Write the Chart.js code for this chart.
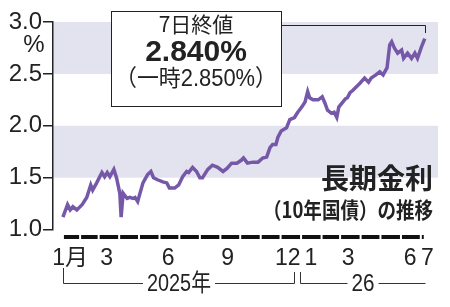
<!DOCTYPE html>
<html>
<head>
<meta charset="utf-8">
<script src="https://cdn.jsdelivr.net/npm/chart.js@4.4.1/dist/chart.umd.min.js"></script>
<style>
  html, body { margin: 0; padding: 0; background: #fff; }
</style>
</head>
<body>
<canvas id="myChart" width="450" height="307"></canvas>
<script>
// 10-year JGB yield
const dates = [
  '2025-01-06','2025-01-13','2025-01-17','2025-01-21','2025-01-27','2025-02-04','2025-02-11','2025-02-17',
  '2025-02-20','2025-02-26','2025-03-06','2025-03-10','2025-03-14','2025-03-18','2025-03-24','2025-03-28',
  '2025-04-02','2025-04-04','2025-04-07','2025-04-13','2025-04-17','2025-04-22','2025-04-25','2025-04-29',
  '2025-05-07','2025-05-14','2025-05-19','2025-05-23','2025-05-29','2025-06-06','2025-06-12','2025-06-16',
  '2025-06-24','2025-06-30','2025-07-06','2025-07-12','2025-07-15','2025-07-21','2025-07-27','2025-08-01',
  '2025-08-05','2025-08-13','2025-08-20','2025-08-28','2025-09-05','2025-09-11','2025-09-18','2025-09-26',
  '2025-10-03','2025-10-06','2025-10-12','2025-10-20','2025-10-28','2025-11-04','2025-11-10','2025-11-15',
  '2025-11-19','2025-11-24','2025-11-27','2025-12-02','2025-12-10','2025-12-15','2025-12-22','2025-12-27',
  '2026-01-02','2026-01-07','2026-01-11','2026-01-14','2026-01-19','2026-01-27','2026-02-02','2026-02-06',
  '2026-02-10','2026-02-16','2026-02-20','2026-02-24','2026-02-27','2026-03-09','2026-03-12','2026-03-16',
  '2026-03-20','2026-03-23','2026-03-31','2026-04-07','2026-04-13','2026-04-17','2026-04-24','2026-04-30',
  '2026-05-05','2026-05-11','2026-05-15','2026-05-18','2026-05-22','2026-05-27','2026-06-02','2026-06-05',
  '2026-06-11','2026-06-17','2026-06-22','2026-06-26','2026-07-02','2026-07-07'
]
const yields = [
  1.12,1.24,1.19,1.22,1.19,1.24,1.31,1.43,
  1.38,1.45,1.55,1.51,1.55,1.51,1.58,1.50,
  1.35,1.12,1.35,1.30,1.31,1.30,1.31,1.27,
  1.45,1.53,1.56,1.50,1.48,1.46,1.45,1.40,
  1.40,1.43,1.51,1.56,1.55,1.60,1.56,1.50,
  1.50,1.58,1.62,1.60,1.56,1.59,1.64,1.64,
  1.67,1.69,1.64,1.65,1.65,1.69,1.70,1.79,
  1.82,1.82,1.89,1.95,1.98,2.06,2.08,2.13,
  2.18,2.23,2.33,2.27,2.25,2.25,2.28,2.22,
  2.15,2.12,2.13,2.08,2.18,2.26,2.27,2.32,
  2.34,2.36,2.41,2.46,2.42,2.46,2.49,2.52,
  2.49,2.56,2.78,2.81,2.75,2.70,2.73,2.65,
  2.70,2.65,2.70,2.65,2.76,2.84
]
const intradayHigh = 2.850

const yTicks = [1.0, 1.5, 2.0, 2.5, 3.0]
const monthTickDates = ['2025-01-17','2025-03-13','2025-06-14','2025-09-12','2025-12-12','2026-01-16','2026-03-13','2026-06-15','2026-07-11']
const monthLabels = ['1月','3','6','9','12','1','3','6','7']
const bands = [[1.5, 2.0], [2.5, 3.0]]
const yearLabels = ['2025年', '26']

const sans = '"Liberation Sans", "Noto Sans CJK JP", sans-serif'
const cjk = '"Noto Sans CJK JP", sans-serif'

function dayNum(s){
  const [y,m,d] = s.split('-').map(Number)
  return (Date.UTC(y,m-1,d) - Date.UTC(2025,0,1)) / 86400000
}
const days = dates.map(dayNum)
const firstDay = days[0]
const lastDay = days[days.length-1]

// month starts Jan 2025 .. Aug 2026
const monthStarts = []
for (let i = 0; i <= 19; i++) {
  monthStarts.push((Date.UTC(2025, i, 1) - Date.UTC(2025,0,1)) / 86400000)
}
const newYearDay = dayNum('2026-01-01')

const bandPlugin = {
  id: 'bands',
  beforeDraw(chart){
    const {ctx, chartArea:a, scales:{y}} = chart
    ctx.save()
    ctx.fillStyle = '#e3e3ef'
    bands.forEach(([lo,hi]) => {
      const t = y.getPixelForValue(hi), b = y.getPixelForValue(lo)
      ctx.fillRect(a.left, t, a.right - a.left, b - t)
    })
    ctx.restore()
  }
}

function fitText(ctx, text, x, y, w){
  const mw = ctx.measureText(text).width
  if (mw > w) ctx.fillText(text, x, y, w)
  else ctx.fillText(text, x, y)
}

const decorPlugin = {
  id: 'decor',
  afterDraw(chart){
    const {ctx, scales:{x}} = chart
    const px = d => x.getPixelForValue(d)
    ctx.save()

    // month dashes under the plot
    ctx.fillStyle = '#111'
    for (let i = 0; i < monthStarts.length-1; i++) {
      const s = Math.max(monthStarts[i], firstDay)
      const e = Math.min(monthStarts[i+1], lastDay)
      if (e <= s) continue
      const x0 = px(s), x1 = px(e)
      ctx.fillRect(x0 + 1, 235, x1 - x0 - 2, 4)
    }

    // year brackets
    ctx.strokeStyle = '#333'
    ctx.lineWidth = 1
    const yl = 283.5
    const b1 = [Math.round(px(firstDay)) + 0.5, Math.round(px(newYearDay)) - 6.5]
    const b2 = [Math.round(px(newYearDay)) - 0.5, Math.round(px(lastDay)) + 0.5]
    ctx.beginPath()
    ctx.moveTo(b1[0], 268); ctx.lineTo(b1[0], yl); ctx.lineTo(b1[1], yl); ctx.lineTo(b1[1], 272)
    ctx.moveTo(b2[0], 272); ctx.lineTo(b2[0], yl); ctx.lineTo(b2[1], yl)
    ctx.stroke()
    ctx.font = '24px ' + sans
    ctx.textAlign = 'center'
    ctx.textBaseline = 'middle'
    const yearW = [64, 23]
    ;[b1, b2].forEach((b, i) => {
      const cx = (b[0] + b[1]) / 2
      ctx.fillStyle = '#fff'
      ctx.fillRect(cx - yearW[i]/2 - 4, yl - 8, yearW[i] + 8, 16)
      ctx.fillStyle = '#222'
      fitText(ctx, yearLabels[i], cx, 284, yearW[i])
    })

    // % unit
    ctx.font = '24px ' + sans
    ctx.fillStyle = '#222'
    ctx.fillText('%', 34, 45)

    // callout box
    const endX = Math.round(px(lastDay)) + 0.5
    ctx.beginPath()
    ctx.moveTo(282, 25.5); ctx.lineTo(endX, 25.5); ctx.lineTo(endX, 33)
    ctx.strokeStyle = '#222'
    ctx.stroke()
    ctx.fillStyle = '#fff'
    ctx.fillRect(111, 11, 171, 96)
    ctx.strokeRect(111.5, 11.5, 170, 95)
    ctx.fillStyle = '#222'
    ctx.font = '21px ' + cjk
    ctx.fillText('7日終値', 196, 24)
    ctx.font = 'bold 30px ' + sans
    fitText(ctx, yields[yields.length-1].toFixed(3) + '%', 196, 53, 108)
    ctx.font = '23px ' + sans
    fitText(ctx, '（一時' + intradayHigh.toFixed(3) + '%）', 196, 80, 162)

    // title
    ctx.textAlign = 'right'
    ctx.font = 'bold 28px ' + cjk
    fitText(ctx, '長期金利', 433, 178, 116)
    ctx.font = 'bold 22px ' + cjk
    fitText(ctx, '（10年国債）の推移', 433, 210, 170)

    ctx.restore()
  }
}

const ctx = document.querySelector('#myChart')
new Chart(ctx, {
  type: 'line',
  data: {
    datasets: [{
      data: days.map((d, i) => ({x: d, y: yields[i]})),
      borderColor: '#7658a8',
      borderWidth: 3.5,
      pointRadius: 0,
      tension: 0,
      fill: false
    }]
  },
  options: {
    responsive: false,
    animation: false,
    layout: { padding: { left: 0, right: 12, top: 22, bottom: 0 } },
    plugins: { legend: { display: false }, tooltip: { enabled: false } },
    scales: {
      x: {
        type: 'linear',
        min: -10,
        max: 572,
        afterFit(s){ s.height = 77.4 },
        afterBuildTicks(s){ s.ticks = monthTickDates.map(d => ({value: dayNum(d)})) },
        ticks: {
          autoSkip: false,
          maxRotation: 0,
          padding: 15,
          color: '#222',
          font: { size: 23, family: sans },
          callback: (v, i) => monthLabels[i]
        },
        grid: { display: false, drawTicks: false },
        border: { display: false }
      },
      y: {
        min: 1,
        max: 3,
        afterFit(s){ s.width = 53 },
        afterBuildTicks(s){ s.ticks = yTicks.map(v => ({value: v})) },
        ticks: {
          padding: 1,
          color: '#222',
          font: { size: 24, family: sans },
          callback: v => v.toFixed(1)
        },
        grid: { drawOnChartArea: false, tickLength: 10, color: '#222', lineWidth: 1.5 },
        border: { color: '#222', width: 1.5 }
      }
    }
  },
  plugins: [bandPlugin, decorPlugin]
})
</script>
</body>
</html>
